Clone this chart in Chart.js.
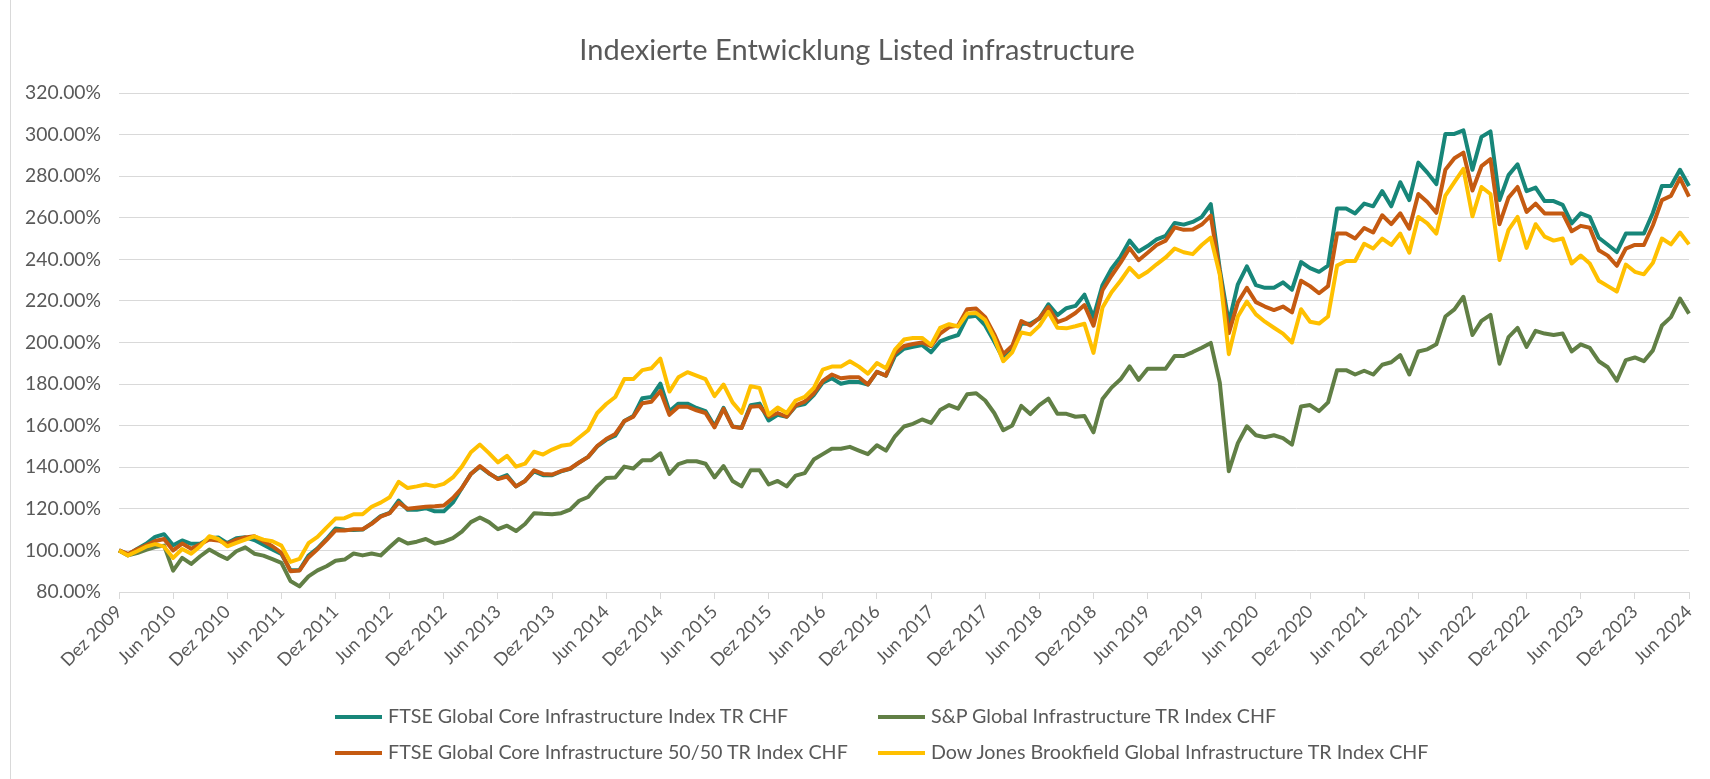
<!DOCTYPE html>
<html>
<head>
<meta charset="utf-8">
<script src="https://cdn.jsdelivr.net/npm/chart.js@4.4.1/dist/chart.umd.min.js"></script>
<style>
  html, body { margin: 0; padding: 0; background: #fff; }
  #wrap { position: relative; width: 1710px; height: 779px; overflow: hidden; }
  #frame { position: absolute; left: 10px; top: 0; width: 1px; height: 779px; background: #d9d9d9; }
  #title { position: absolute; left: 857px; top: 32px; transform: translateX(-50%); white-space: nowrap;
           font-family: Lato, "Liberation Sans", sans-serif; font-size: 29px; line-height: 34px; color: #595959; }
  .leg { position: absolute; height: 24px; white-space: nowrap; font-family: Lato, "Liberation Sans", sans-serif;
         font-size: 19.7px; line-height: 24px; color: #595959; }
  .leg span.mark { display: inline-block; width: 47px; height: 4px; vertical-align: middle; margin-right: 6px; position: relative; top: -1px; }
</style>
</head>
<body>
<div id="wrap">
  <canvas id="myChart" width="1710" height="779"></canvas>
  <div id="frame"></div>
  <div id="title">Indexierte Entwicklung Listed infrastructure</div>
</div>
<script>
// months Dez 2009 .. Jun 2024
const monthNames = ['Jan','Feb','Mär','Apr','Mai','Jun','Jul','Aug','Sep','Okt','Nov','Dez'];
const months = [];
for (let y = 2009, m = 11; y < 2024 || (y == 2024 && m <= 5); m++) {
    if (m == 12) { m = 0; y++; }
    months.push(monthNames[m] + ' ' + y);
}
const tickLabels = ['Dez 2009','Jun 2010','Dez 2010','Jun 2011','Dez 2011','Jun 2012','Dez 2012','Jun 2013',
    'Dez 2013','Jun 2014','Dez 2014','Jun 2015','Dez 2015','Jun 2016','Dez 2016','Jun 2017','Dez 2017',
    'Jun 2018','Dez 2018','Jun 2019','Dez 2019','Jun 2020','Dez 2020','Jun 2021','Dez 2021','Jun 2022',
    'Dez 2022','Jun 2023','Dez 2023','Jun 2024'];

const seriesNames = ['FTSE Global Core Infrastructure Index TR CHF', 'S&P Global Infrastructure TR Index CHF',
    'FTSE Global Core Infrastructure 50/50 TR Index CHF', 'Dow Jones Brookfield Global Infrastructure TR Index CHF'];
const seriesColors = ['#178679', '#617f45', '#c55a11', '#ffc000'];

const ftseCore = [
    100, 98, 100.7, 103.2, 106.5, 107.8, 102.5, 104.8, 103.2, 103.2,
    105.8, 106.2, 103.5, 105.8, 106.3, 105, 102.8, 100.5, 98.3, 90.5,
    90.5, 97.5, 101, 105.5, 110.5, 110, 109.8, 110, 113, 116.5,
    118, 124, 119.5, 119.5, 120.3, 118.8, 118.8, 123, 130, 136.8,
    140.3, 137, 134.5, 136.2, 130.8, 133.4, 138, 136.2, 136.2, 138,
    139.2, 142.3, 145, 150, 153.2, 155.2, 162.2, 164.6, 173.2, 173.8,
    180.2, 166.9, 170.6, 170.6, 168.5, 167, 159.8, 168.6, 159.6, 159,
    169.8, 170.6, 162.5, 165.2, 164.3, 169.4, 170.4, 174.7, 180.7, 182.8,
    180.2, 181.1, 181, 179.8, 185.9, 184.1, 193.6, 197, 197.9, 198.8,
    195.3, 200.5, 202.2, 203.6, 212.2, 212.9, 208.2, 200.5, 192.2, 197.4,
    209, 209, 211.5, 218.4, 213.2, 216.5, 217.6, 223, 212.2, 227.6,
    235.5, 241.2, 249, 243.8, 246.4, 249.6, 251.3, 257.5, 256.7, 258,
    260.4, 266.5, 235.2, 209.5, 228, 236.6, 227.6, 226.3, 226.3, 228.9,
    225.4, 238.7, 235.8, 234, 237, 264.5, 264.5, 262.1, 266.8, 265.5,
    272.8, 265.5, 277.1, 268.5, 286.5, 281.7, 276.2, 300.3, 300.3, 302,
    283.1, 298.9, 301.5, 268.5, 280.5, 285.7, 272.8, 274.5, 268, 268,
    266.2, 257.3, 262.1, 260.4, 250.4, 247, 243.5, 252.4, 252.4, 252.4,
    262.4, 275.3, 275.3, 283.1, 275.3];

const spGlobal = [
    100, 97.6, 98.7, 100.3, 101.6, 102.3, 90.3, 96.4, 93.5, 97.2,
    100.4, 98, 95.9, 99.6, 101.5, 98.4, 97.5, 95.8, 94, 85.3,
    82.7, 87.5, 90.4, 92.4, 95, 95.6, 98.5, 97.6, 98.5, 97.6,
    101.6, 105.5, 103.3, 104.2, 105.5, 103.3, 104.2, 105.9, 109, 113.6,
    115.8, 113.6, 110.2, 111.9, 109.3, 112.7, 117.9, 117.6, 117.4, 117.9,
    119.6, 123.9, 125.7, 130.8, 134.8, 135.1, 140.3, 139.4, 143.4, 143.4,
    146.7, 136.8, 141.5, 142.9, 142.9, 141.7, 135.1, 140.6, 133.4, 130.8,
    138.5, 138.5, 131.7, 133.4, 130.8, 136, 137.2, 143.7, 146.3, 148.9,
    148.9, 149.8, 148, 146.3, 150.6, 148, 154.9, 159.6, 160.9, 163,
    161.3, 167.5, 169.9, 168.2, 175.1, 175.6, 172.1, 166.1, 157.8, 160.1,
    169.5, 165.6, 169.9, 173, 165.7, 165.7, 164.3, 164.7, 156.8, 172.8,
    178.3, 182.3, 188.5, 182, 187.4, 187.4, 187.4, 193.5, 193.5, 195.4,
    197.5, 199.8, 180.7, 138.1, 151.6, 159.7, 155.4, 154.4, 155.4, 154,
    150.9, 169.2, 169.9, 167, 171.2, 186.7, 186.7, 184.6, 186.4, 184.6,
    189.3, 190.5, 193.9, 184.6, 195.7, 196.7, 199.1, 212.5, 215.9, 222,
    203.6, 210.4, 213.3, 189.8, 202.6, 207, 197.9, 205.6, 204.3, 203.6,
    204.3, 195.7, 199.1, 197.4, 191, 188.1, 181.6, 191.5, 192.8, 191,
    196.2, 208.2, 212.2, 221.1, 213.9];

const ftse5050 = [
    100, 98.3, 100.5, 102.5, 104.5, 105.5, 100, 103.3, 100.8, 103,
    105.3, 104.8, 103.2, 105.2, 106.2, 106.8, 104.4, 102, 98.8, 90,
    90.3, 96.6, 100.6, 105, 109.6, 109.6, 110.2, 110.2, 112.8, 116.2,
    117.9, 123, 120, 120.5, 121, 121.2, 121.6, 125.2, 130, 136.8,
    140.6, 137.2, 134.3, 135.5, 130.8, 133.4, 138.5, 136.8, 136.5, 138.2,
    139.4, 142.3, 145, 150.2, 153.6, 156, 162.2, 164.3, 170.8, 171.5,
    176.7, 165.2, 169.1, 169.1, 167.4, 166.1, 159.2, 168.1, 159.5, 158.9,
    169.1, 169.4, 164.3, 166.1, 164.3, 169.8, 171.6, 175.5, 181.5, 184.6,
    182.8, 183.3, 183.3, 179.8, 185.9, 184.1, 194.9, 198.3, 199.3, 200,
    198.3, 204.3, 207.4, 208.2, 216, 216.3, 212.2, 204, 194.4, 198.4,
    210.3, 208.2, 211.8, 217, 209.8, 211.4, 214.2, 218, 208.1, 225.1,
    232.1, 238.4, 245.4, 239.6, 243.2, 246.9, 249, 255.4, 254.2, 254.3,
    256.7, 261, 233.6, 204.5, 219.3, 226.3, 219.4, 217.3, 215.6, 217.3,
    214.5, 229.7, 227.1, 223.7, 227.1, 252.4, 252.4, 250, 255.1, 252.9,
    261.2, 256.9, 262.1, 254.7, 271.4, 267.6, 262.4, 283.1, 288.6, 291.3,
    273.1, 284.8, 288.2, 256.9, 269.7, 274.8, 262.8, 266.8, 262.1, 262.1,
    262.1, 253.5, 256.1, 255.2, 244.4, 241.8, 236.9, 245.2, 246.9, 246.9,
    256.4, 268.5, 270.5, 279.1, 270.2];

const djBrookfield = [
    100, 97.6, 99.6, 101.8, 103, 101.8, 96.4, 100.7, 98.4, 102,
    106.8, 105.5, 102, 103.6, 105.2, 106.8, 105.2, 104.4, 102.3, 94.5,
    95.9, 103.5, 106.5, 111, 115.3, 115.5, 117.4, 117.4, 121, 123,
    125.6, 133, 130, 130.8, 131.7, 130.8, 132, 135.1, 140.3, 147.2,
    150.9, 146.8, 142.3, 145.5, 140.3, 141.7, 147.5, 146.1, 148.5, 150.3,
    150.9, 154.3, 157.8, 166.1, 170.4, 173.8, 182.4, 182.4, 186.7, 187.6,
    192.2, 176.4, 183.3, 185.7, 184.1, 182.4, 174.2, 179.8, 171.2, 166.1,
    179, 178.1, 165.2, 168.7, 166.1, 172.1, 173.8, 178.1, 187, 188.4,
    188.4, 191, 188.4, 185, 190.1, 187.6, 196.6, 201.4, 202.2, 202.2,
    198.8, 207, 208.8, 207.7, 213.9, 214.2, 210.8, 202.2, 191, 195.3,
    204.8, 203.9, 208, 214.7, 207.1, 206.8, 207.8, 209, 195, 216.8,
    224.2, 229.7, 235.9, 231.4, 234, 237.6, 240.9, 245.2, 243.4, 242.5,
    246.9, 250.5, 232.6, 194.4, 212.5, 219.7, 213.5, 210, 207.1, 204.3,
    200, 216, 210, 209.1, 212.5, 237, 239.2, 239.2, 247.5, 245.2,
    250, 246.9, 252.4, 243.2, 260.4, 257.3, 252.4, 270.7, 277.1, 283.5,
    260.7, 274.8, 271.4, 239.7, 254.2, 260.4, 245.5, 256.9, 250.9, 249,
    250, 238, 241.8, 238, 229.7, 227.1, 224.5, 237.5, 234, 232.8,
    238.3, 250, 247.2, 252.9, 247.2];

const seriesData = [ftseCore, spGlobal, ftse5050, djBrookfield];
const fontFam = 'Lato, "Liberation Sans", sans-serif';

const datasets = seriesData.map((d, k) => ({
    label: seriesNames[k],
    data: d,
    borderColor: seriesColors[k],
    backgroundColor: seriesColors[k],
    borderWidth: 4,
    pointRadius: 0,
    tension: 0,
    borderJoinStyle: 'round',
    fill: false,
    order: 4 - k
}));

const chart = new Chart(document.getElementById('myChart'), {
    type: 'line',
    data: { labels: months, datasets: datasets },
    options: {
        responsive: false,
        animation: false,
        layout: { padding: { left: 0, right: 21, top: 93, bottom: 0 } },
        plugins: { legend: { display: false }, title: { display: false }, tooltip: { enabled: false } },
        scales: {
            x: {
                grid: { display: true, drawOnChartArea: false, tickLength: 7, color: '#d9d9d9' },
                border: { color: '#d9d9d9', width: 1 },
                ticks: {
                    autoSkip: false, maxRotation: 45, minRotation: 45, padding: 2,
                    color: '#595959', font: { family: fontFam, size: 18 },
                    callback: (v, i) => (i % 6 === 0 ? tickLabels[i / 6] : null)
                },
                afterFit: (s) => { s.height = 187; }
            },
            y: {
                min: 80, max: 320,
                grid: { color: '#d9d9d9', drawTicks: false },
                border: { display: false },
                ticks: {
                    stepSize: 20, padding: 18, color: '#595959', font: { family: fontFam, size: 19.3 },
                    callback: (v) => v.toFixed(2) + '%'
                },
                afterFit: (s) => { s.width = 119; }
            }
        }
    }
});

// legend, 2 columns like the original
const legPos = [[335, 704], [878, 704], [335, 740], [878, 740]];
const wrap = document.getElementById('wrap');
seriesNames.forEach((n, k) => {
    const el = document.createElement('div');
    el.className = 'leg';
    el.style.left = legPos[k][0] + 'px';
    el.style.top = legPos[k][1] + 'px';
    const mk = document.createElement('span');
    mk.className = 'mark';
    mk.style.background = seriesColors[k];
    el.appendChild(mk);
    el.appendChild(document.createTextNode(n));
    wrap.appendChild(el);
});
</script>
</body>
</html>
